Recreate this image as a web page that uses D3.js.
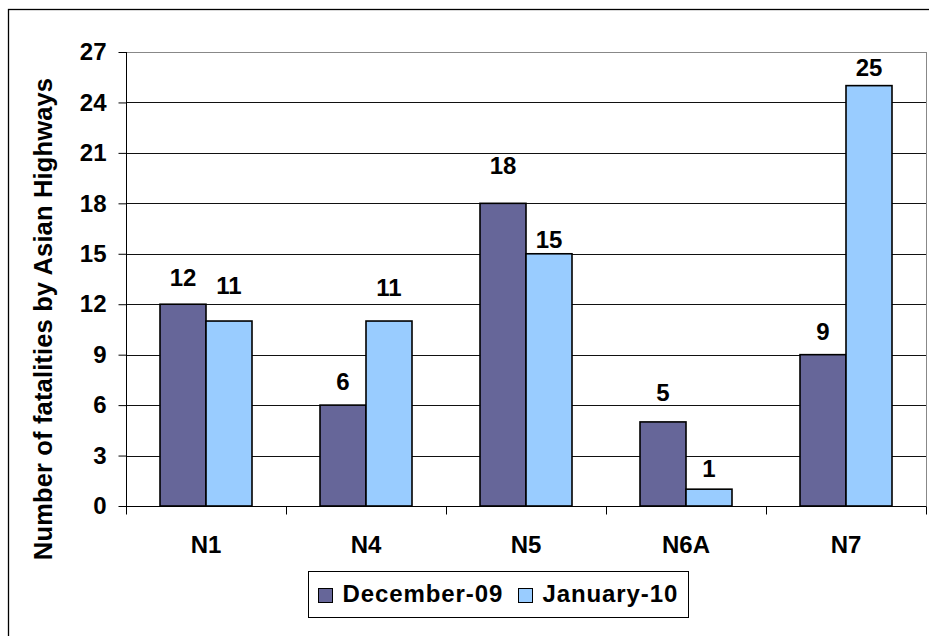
<!DOCTYPE html>
<html><head><meta charset="utf-8">
<script src="https://cdn.jsdelivr.net/npm/d3@7"></script>
<style>body{margin:0;background:#fff}svg{display:block;font-family:"Liberation Sans",Arial,sans-serif}</style>
</head><body><svg id="c" width="929" height="636"></svg>
<script>
const categories = ["N1","N4","N5","N6A","N7"];
const seriesNames = ["December-09","January-10"];
const dec09 = [12,6,18,5,9];
const jan10 = [11,11,15,1,25];
const yTicks = [0,3,6,9,12,15,18,21,24,27];
const colors = ["#666699","#99CCFF"];
// label gap (px) between bar top and label baseline, as placed in the original
const decLabelGap = [18,15,29,21,15];
const jan10LabelGap = [27,25,6,12,10];

const svg = d3.select("#c");
const L=126, R=926, T=52, B=506;
svg.append("rect").attr("x",8.5).attr("y",9.5).attr("width",940).attr("height",640)
  .attr("fill","none").attr("stroke","#000").attr("stroke-width",1.3);

const x = d3.scaleBand().domain(categories).range([L,R]);
const y = d3.scaleLinear().domain([0,27]).range([B,T]);
const bw = 46;

svg.append("g").selectAll("line").data(yTicks.filter(d=>d>0)).join("line")
  .attr("x1",L).attr("x2",R).attr("y1",d=>Math.round(y(d))+0.5).attr("y2",d=>Math.round(y(d))+0.5)
  .attr("stroke",d=>d===27?"#888":"#111").attr("stroke-width",1);
svg.append("line").attr("x1",R+0.5).attr("x2",R+0.5).attr("y1",T).attr("y2",B+8).attr("stroke","#888");

const series = [dec09, jan10];
const gaps = [decLabelGap, jan10LabelGap];
series.forEach((vals,si)=>{
  const g = svg.append("g");
  g.selectAll("rect").data(categories).join("rect")
    .attr("x",(c)=>x(c)+x.bandwidth()/2 - bw + si*bw)
    .attr("y",(c,i)=>y(vals[i]))
    .attr("width",bw)
    .attr("height",(c,i)=>B-y(vals[i]))
    .attr("fill",colors[si]).attr("stroke","#000").attr("stroke-width",1.6);
  g.selectAll("text").data(categories).join("text")
    .attr("x",(c)=>x(c)+x.bandwidth()/2 - bw/2 + si*bw)
    .attr("y",(c,i)=>y(vals[i])-gaps[si][i])
    .attr("text-anchor","middle").attr("font-weight","bold").attr("font-size",24)
    .text((c,i)=>vals[i]);
});

const ya = svg.append("g").attr("transform",`translate(${L+0.5},0)`)
  .call(d3.axisLeft(y).tickValues(yTicks).tickSize(8).tickPadding(12));
ya.select(".domain").attr("d",`M0,${T}V${B}`).attr("stroke","#000");
ya.selectAll("text").attr("font-size",24).attr("font-weight","bold").attr("font-family","Liberation Sans, Arial, sans-serif").attr("fill","#000");
ya.selectAll("line").attr("stroke","#000");

const xa = svg.append("g").attr("transform",`translate(0,${B+0.5})`);
xa.append("line").attr("x1",L).attr("x2",R).attr("stroke","#000");
xa.selectAll("line.t").data(d3.range(categories.length+1)).join("line").attr("class","t")
  .attr("x1",i=>L+i*x.step()+0.5).attr("x2",i=>L+i*x.step()+0.5).attr("y1",0).attr("y2",8).attr("stroke","#000");
xa.selectAll("text").data(categories).join("text")
  .attr("x",c=>x(c)+x.bandwidth()/2).attr("y",46).attr("text-anchor","middle")
  .attr("font-size",24).attr("font-weight","bold").text(c=>c);

svg.append("text").attr("transform","translate(52,319) rotate(-90)")
  .attr("text-anchor","middle").attr("font-size",25.5).attr("font-weight","bold")
  .attr("letter-spacing",0.15)
  .text("Number of fatalities by Asian Highways");

const lg = svg.append("g");
lg.append("rect").attr("x",308.5).attr("y",571.5).attr("width",380).attr("height",46)
  .attr("fill","#fff").attr("stroke","#000").attr("stroke-width",1);
const lx = [318.5, 518.5];
seriesNames.forEach((n,i)=>{
  lg.append("rect").attr("x",lx[i]).attr("y",588.5).attr("width",14).attr("height",14)
    .attr("fill",colors[i]).attr("stroke","#000").attr("stroke-width",1);
  lg.append("text").attr("x",lx[i]+24).attr("y",602).attr("font-size",24).attr("font-weight","bold")
    .attr("letter-spacing",0.9).text(n);
});
</script></body></html>
